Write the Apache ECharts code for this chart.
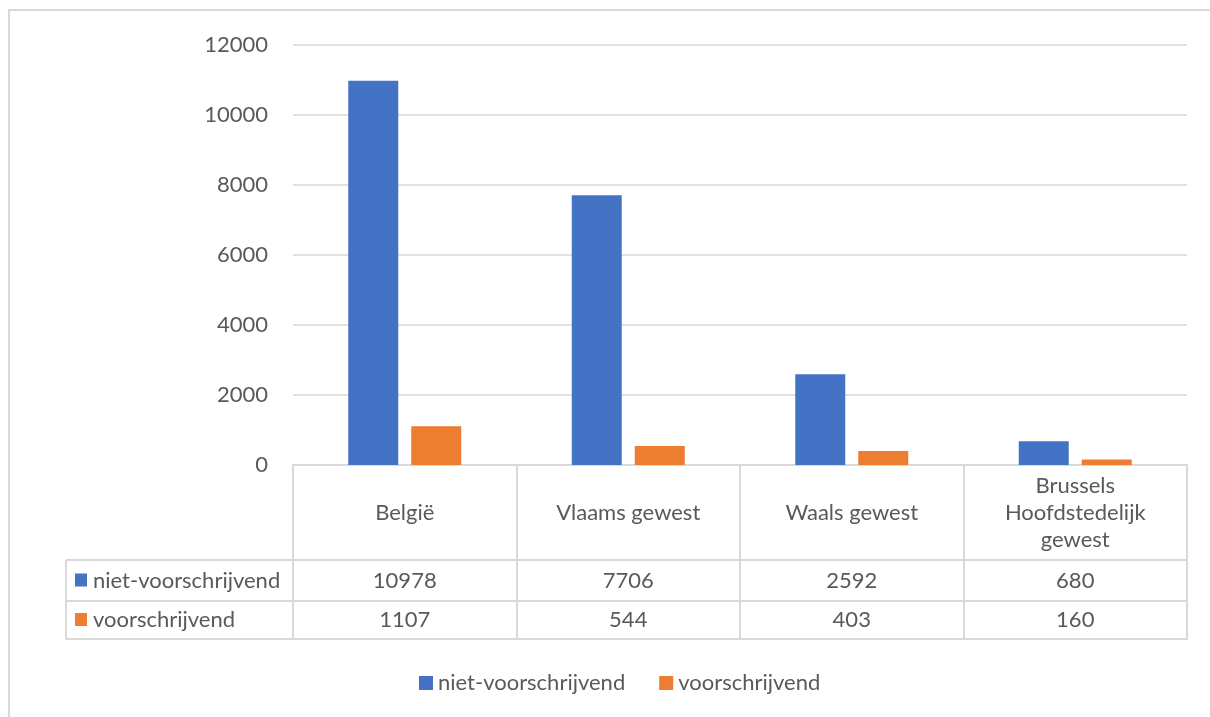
<!DOCTYPE html>
<html>
<head>
<meta charset="utf-8">
<script src="https://cdn.jsdelivr.net/npm/echarts@6/dist/echarts.min.js"></script>
<style>
  html, body { margin: 0; padding: 0; background: #fff; }
  #chart { width: 1210px; height: 717px; }
</style>
</head>
<body>
<div id="chart"></div>
<script>
// Regions and counts per category
const categories = ['België', 'Vlaams gewest', 'Waals gewest', 'Brussels\nHoofdstedelijk\ngewest'];
const seriesNames = ['niet-voorschrijvend', 'voorschrijvend'];
const nietVoorschrijvend = [10978, 7706, 2592, 680];
const voorschrijvend = [1107, 544, 403, 160];
const yTicks = [0, 2000, 4000, 6000, 8000, 10000, 12000];

const FONT = 'Lato, "DejaVu Sans", sans-serif';
const FS = 22;
const TEXT = '#595959';
const LINE = '#D9D9D9';
const BLUE = '#4472C4';
const ORANGE = '#ED7D31';

const GRID = { left: 293, right: 23, top: 45, bottom: 252 };
const HEADER_H = 95;   // category header row
const ROW1_H = 41;     // first data row
const ROW2_H = 38;     // second data row
const LABEL_COL_LEFT = 66;

const chart = echarts.init(document.getElementById('chart'), null, { renderer: 'canvas' });

const baseX = {
  type: 'category',
  data: categories,
  position: 'bottom',
  boundaryGap: true,
  axisTick: { show: false },
  splitLine: { show: false }
};

const option = {
  animation: false,
  backgroundColor: '#fff',
  grid: GRID,
  legend: {
    data: seriesNames,
    left: 414,
    top: 667,
    icon: 'rect',
    itemWidth: 14,
    itemHeight: 14,
    itemGap: 34,
    textStyle: { color: TEXT, fontFamily: FONT, fontSize: FS }
  },
  xAxis: [
    Object.assign({}, baseX, {
      axisLine: { show: true, lineStyle: { color: LINE, width: 2 } },
      axisTick: {
        show: true, inside: false, length: HEADER_H + ROW1_H + ROW2_H,
        lineStyle: { color: LINE, width: 2 }
      },
      axisLabel: {
        color: TEXT, fontFamily: FONT, fontSize: FS, lineHeight: 27,
        interval: 0, margin: HEADER_H / 2, verticalAlign: 'middle', align: 'center'
      }
    }),
    Object.assign({}, baseX, {
      offset: HEADER_H,
      axisLine: { show: true, lineStyle: { color: LINE, width: 2 } },
      axisLabel: {
        color: TEXT, fontFamily: FONT, fontSize: FS, interval: 0,
        margin: ROW1_H / 2, verticalAlign: 'middle',
        formatter: (v, i) => String(nietVoorschrijvend[i])
      }
    }),
    Object.assign({}, baseX, {
      offset: HEADER_H + ROW1_H,
      axisLine: { show: true, lineStyle: { color: LINE, width: 2 } },
      axisLabel: {
        color: TEXT, fontFamily: FONT, fontSize: FS, interval: 0,
        margin: ROW2_H / 2, verticalAlign: 'middle',
        formatter: (v, i) => String(voorschrijvend[i])
      }
    }),
    Object.assign({}, baseX, {
      offset: HEADER_H + ROW1_H + ROW2_H,
      axisLine: { show: true, lineStyle: { color: LINE, width: 2 } },
      axisLabel: { show: false }
    })
  ],
  yAxis: {
    type: 'value',
    min: yTicks[0],
    max: yTicks[yTicks.length - 1],
    interval: yTicks[1] - yTicks[0],
    axisLine: { show: false },
    axisTick: { show: false },
    axisLabel: {
      color: TEXT, fontFamily: FONT, fontSize: FS, margin: 25,
      formatter: v => String(v)
    },
    splitLine: { lineStyle: { color: LINE, width: 1.5 } }
  },
  series: [
    {
      name: seriesNames[0], type: 'bar', data: nietVoorschrijvend,
      barWidth: 50, barGap: '26%', itemStyle: { color: BLUE }
    },
    {
      name: seriesNames[1], type: 'bar', data: voorschrijvend,
      barWidth: 50, barGap: '26%', itemStyle: { color: ORANGE }
    }
  ]
};

chart.setOption(option);

// Series-name column on the left of the data table, plus outer chart frame
function drawTableSide() {
  const step = chart.convertToPixel({ xAxisIndex: 0 }, 1) - chart.convertToPixel({ xAxisIndex: 0 }, 0);
  const x0 = chart.convertToPixel({ xAxisIndex: 0 }, 0) - step / 2;
  const yBase = chart.convertToPixel({ yAxisIndex: 0 }, 0);
  const yRow1 = yBase + HEADER_H;
  const yRow2 = yRow1 + ROW1_H;
  const yEnd = yRow2 + ROW2_H;
  const ls = { stroke: LINE, lineWidth: 2 };
  const colors = [BLUE, ORANGE];
  const rowMid = [yRow1 + ROW1_H / 2, yRow2 + ROW2_H / 2];
  const els = [
    { type: 'line', shape: { x1: LABEL_COL_LEFT, y1: yRow1, x2: x0, y2: yRow1 }, style: ls },
    { type: 'line', shape: { x1: LABEL_COL_LEFT, y1: yRow2, x2: x0, y2: yRow2 }, style: ls },
    { type: 'line', shape: { x1: LABEL_COL_LEFT, y1: yEnd, x2: x0, y2: yEnd }, style: ls },
    { type: 'line', shape: { x1: LABEL_COL_LEFT, y1: yRow1, x2: LABEL_COL_LEFT, y2: yEnd }, style: ls },
    // chart area frame (top and left edges)
    { type: 'polyline', shape: { points: [[9, 730], [9, 10], [1230, 10]] }, style: { stroke: LINE, lineWidth: 2, fill: null } }
  ];
  seriesNames.forEach((name, i) => {
    els.push({ type: 'rect', shape: { x: 75, y: rowMid[i] - 7, width: 12, height: 13 }, style: { fill: colors[i] } });
    els.push({
      type: 'text', x: 93, y: rowMid[i],
      style: { text: name, fill: TEXT, font: FS + 'px ' + FONT, textVerticalAlign: 'middle', textAlign: 'left' }
    });
  });
  chart.setOption({ graphic: { elements: els } });
}
drawTableSide();
</script>
</body>
</html>
